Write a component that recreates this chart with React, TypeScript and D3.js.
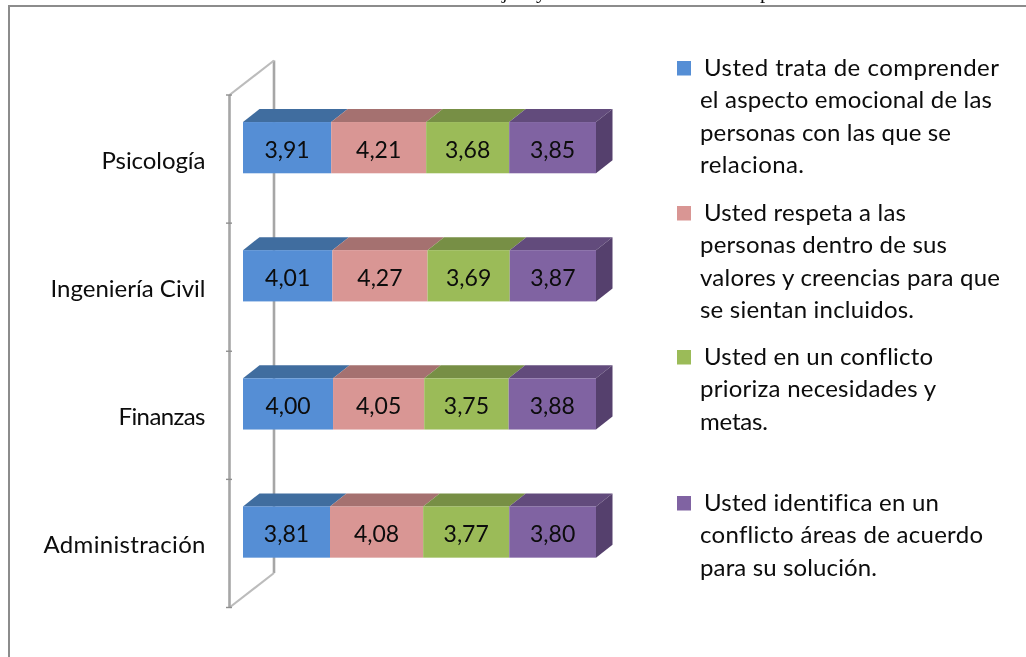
import * as d3 from "d3";
import React, { useEffect, useRef } from "react";

const categories = ["Psicología", "Ingeniería Civil", "Finanzas", "Administración"];
const seriesKeys = ["comprender", "respeta", "prioriza", "identifica"];
const comprender = [3.91, 4.01, 4.0, 3.81];
const respeta = [4.21, 4.27, 4.05, 4.08];
const prioriza = [3.68, 3.69, 3.75, 3.77];
const identifica = [3.85, 3.87, 3.88, 3.8];
const seriesValues = [comprender, respeta, prioriza, identifica];

const frontColors = ["#558ed5", "#d99694", "#9bbb59", "#8064a2"];
const topColors = ["#406d9f", "#a5716f", "#778f45", "#624c7c"];
const sideColor = "#553f6d";

const legendLines = [
  ["Usted trata de comprender", "el aspecto emocional de las", "personas con las que se", "relaciona."],
  ["Usted respeta a las", "personas dentro de sus", "valores y creencias para que", "se sientan incluidos."],
  ["Usted en un conflicto", "prioriza necesidades y", "metas."],
  ["Usted identifica en un", "conflicto áreas de acuerdo", "para su solución."],
];

// measured widths of the text runs, the original font is wider than Lato
const categoryWidths = [104, 155, 87, 162];
const legendWidths = [
  [295, 292, 251, 104],
  [202, 247, 300, 214],
  [229, 236, 68],
  [235, 283, 177],
];

const WIDTH = 1026;
const HEIGHT = 657;
const FONT = "Lato, 'Open Sans', sans-serif";
const TEXT_STYLE = "font-variant-ligatures: none";

function App() {
  const svgRef = useRef<SVGSVGElement>(null);

  useEffect(() => {
    const svg = d3.select(svgRef.current);
    svg.selectAll("*").remove();

    svg
      .append("defs")
      .append("filter")
      .attr("id", "soft")
      .attr("x", 0)
      .attr("y", 0)
      .attr("width", 1)
      .attr("height", 1)
      .append("feGaussianBlur")
      .attr("stdDeviation", 0.45);

    const root = svg.append("g").attr("filter", "url(#soft)");
    root.append("rect").attr("width", WIDTH).attr("height", HEIGHT).attr("fill", "#fff");

    // what is left of the caption above the frame, only descenders show
    const caption = root.append("g").attr("font-family", "'Liberation Serif', serif").attr("font-size", 21).attr("fill", "#111");
    [["j", 502], ["y", 536], ["p", 760]].forEach(([t, x]) => {
      caption.append("text").attr("x", x).attr("y", -2).text(t as string);
    });

    // frame, runs off the right and bottom of the picture
    root
      .append("path")
      .attr("d", `M9,${HEIGHT} V6 H${WIDTH}`)
      .attr("fill", "none")
      .attr("stroke", "#8c8c8c")
      .attr("stroke-width", 2);

    // scales
    const plotTop = 95;
    const plotBottom = 607.5;
    const yEdge = d3.scaleLinear().domain([0, categories.length]).range([plotTop, plotBottom]);
    const yBand = d3
      .scaleBand()
      .domain(categories)
      .range([plotTop - 11.4, plotBottom - 11.4])
      .paddingInner(0.6)
      .paddingOuter(0.3);
    const x = d3.scaleLinear().domain([0, 1]).range([243, 596]);

    const rows = categories.map((name, i) => {
      const row: any = { name };
      seriesKeys.forEach((k, s) => (row[k] = seriesValues[s][i]));
      return row;
    });
    const stacked = d3.stack().keys(seriesKeys).offset(d3.stackOffsetExpand)(rows);

    // 3d axis wall
    const wallDx = 44.5;
    const wallDy = 34.5;
    const axisColor = "#a6a6a6";
    const axisX = 229.5;
    const wall = d3.line();
    root
      .append("path")
      .attr("d", wall([[axisX + wallDx, plotTop - wallDy], [axisX + wallDx, plotBottom - wallDy]]))
      .attr("stroke", axisColor)
      .attr("stroke-width", 2.6)
      .attr("fill", "none");
    [plotTop, plotBottom].forEach((y) => {
      root
        .append("path")
        .attr("d", wall([[axisX, y], [axisX + wallDx, y - wallDy]]))
        .attr("stroke", "#bcbcbc")
        .attr("stroke-width", 2.2)
        .attr("fill", "none");
    });
    root
      .append("path")
      .attr("d", wall([[axisX, plotTop], [axisX, plotBottom]]))
      .attr("stroke", axisColor)
      .attr("stroke-width", 2.6)
      .attr("fill", "none");
    d3.range(categories.length + 1).forEach((i) => {
      root
        .append("path")
        .attr("d", wall([[axisX - 3.5, yEdge(i)], [axisX + 2.5, yEdge(i)]]))
        .attr("stroke", "#8f8f8f")
        .attr("stroke-width", 1.4);
    });

    // bars
    const dx = 16.5;
    const dy = 13;
    const bars = root.append("g");
    const face = d3.line();
    stacked.forEach((layer, s) => {
      layer.forEach((d: any) => {
        const name = d.data.name;
        const top = yBand(name) as number;
        const h = yBand.bandwidth();
        const x0 = x(d[0]);
        const x1 = x(d[1]);
        bars
          .append("path")
          .attr("d", face([[x0, top], [x0 + dx, top - dy], [x1 + dx, top - dy], [x1, top]]) + "Z")
          .attr("fill", topColors[s]);
        if (s === stacked.length - 1) {
          bars
            .append("path")
            .attr("d", face([[x1, top], [x1 + dx, top - dy], [x1 + dx, top - dy + h], [x1, top + h]]) + "Z")
            .attr("fill", sideColor);
        }
        bars
          .append("rect")
          .attr("x", x0)
          .attr("y", top)
          .attr("width", x1 - x0)
          .attr("height", h)
          .attr("fill", frontColors[s]);
      });
    });

    // value labels
    const fmt = d3.formatLocale({ decimal: ",", thousands: ".", grouping: [3], currency: ["", ""] }).format(".2f");
    stacked.forEach((layer, s) => {
      layer.forEach((d: any, i) => {
        root
          .append("text")
          .attr("x", (x(d[0]) + x(d[1])) / 2)
          .attr("y", (yBand(d.data.name) as number) + 35.5)
          .attr("text-anchor", "middle")
          .attr("font-family", FONT)
          .attr("font-size", 23)
          .attr("fill", "#0a0a0a")
          .text(fmt(seriesValues[s][i]));
      });
    });

    // category labels
    categories.forEach((name, i) => {
      root
        .append("text")
        .attr("x", 205.5 - categoryWidths[i])
        .attr("y", yEdge(i) + 74)
        .attr("textLength", categoryWidths[i])
        .attr("lengthAdjust", "spacing")
        .attr("font-family", FONT)
        .attr("font-size", 24)
        .attr("style", TEXT_STYLE)
        .attr("fill", "#0a0a0a")
        .text(name);
    });

    // legend
    const legendTops = [76, 221, 365, 511];
    const lineStep = 32.3;
    const legend = root.append("g").attr("font-family", FONT).attr("font-size", 24).attr("fill", "#0a0a0a");
    legendLines.forEach((lines, s) => {
      legend
        .append("rect")
        .attr("x", 677)
        .attr("y", legendTops[s] - 15)
        .attr("width", 14)
        .attr("height", 14.5)
        .attr("fill", frontColors[s]);
      lines.forEach((line, l) => {
        legend
          .append("text")
          .attr("x", l === 0 ? 704 : 700)
          .attr("y", legendTops[s] + l * lineStep)
          .attr("textLength", legendWidths[s][l])
          .attr("lengthAdjust", "spacing")
          .attr("style", TEXT_STYLE)
          .text(line);
      });
    });
  }, []);

  return (
    <svg
      ref={svgRef}
      width={WIDTH}
      height={HEIGHT}
      style={{ position: "absolute", left: 0, top: 0, display: "block" }}
    ></svg>
  );
}

export default App;
